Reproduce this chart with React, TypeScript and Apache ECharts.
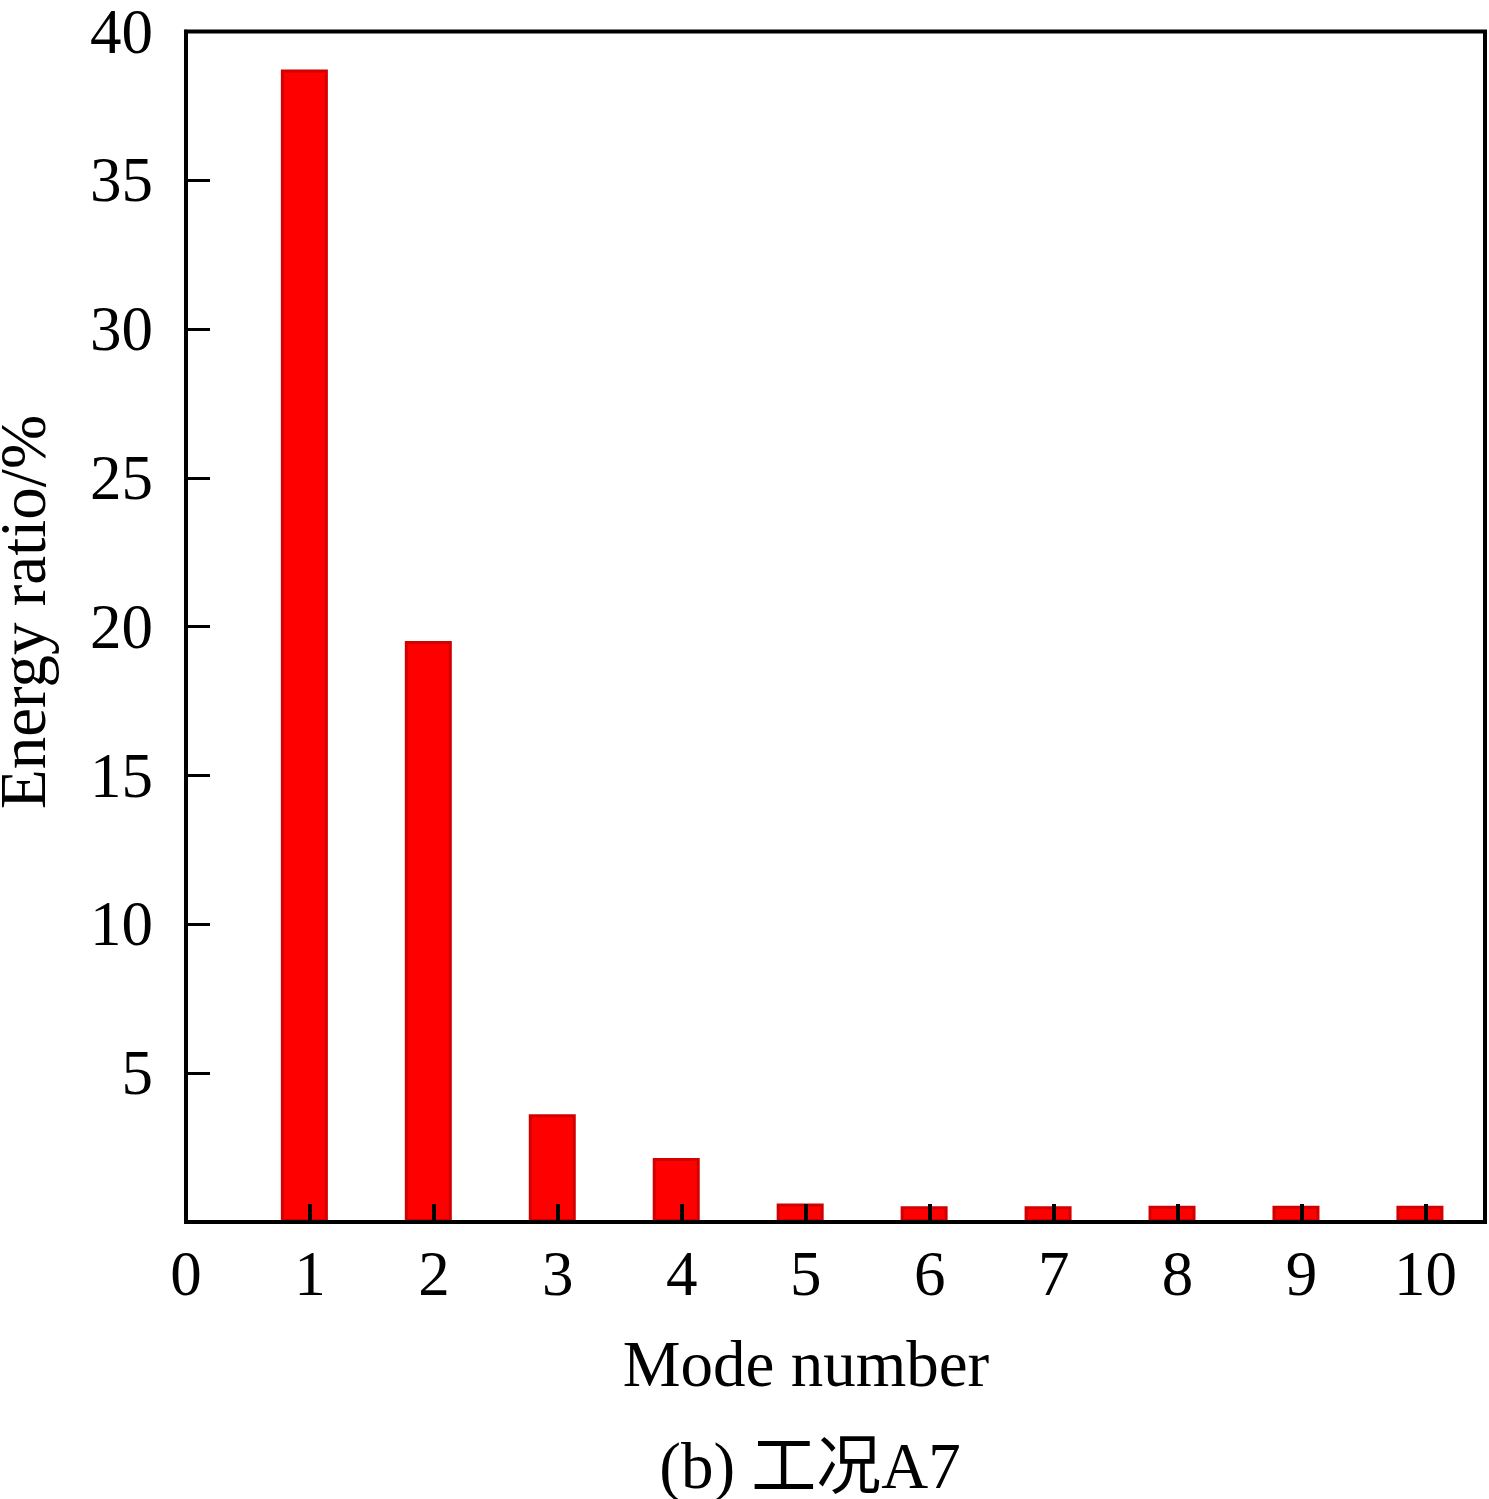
import React, { useEffect, useRef } from "react";
import * as echarts from "echarts";

const modeNumbers = [1, 2, 3, 4, 5, 6, 7, 8, 9, 10];
const energyRatio = [38.72, 19.52, 3.62, 2.15, 0.62, 0.53, 0.53, 0.55, 0.55, 0.55];
const xTickLabels = ["0", "1", "2", "3", "4", "5", "6", "7", "8", "9", "10"];
const yTickValues = [5, 10, 15, 20, 25, 30, 35, 40];

const FONT = "'Liberation Serif', 'Times New Roman', 'Noto Sans CJK SC', serif";

export default function App() {
  const ref = useRef<HTMLDivElement>(null);

  useEffect(() => {
    if (!ref.current) return;
    const chart = echarts.init(ref.current, undefined, { renderer: "svg" });
    const option = {
      animation: false,
      backgroundColor: "#ffffff",
      grid: {
        left: 186,
        top: 30,
        right: 4,
        bottom: 277,
        show: true,
        borderColor: "#000",
        borderWidth: 4,
        containLabel: false,
      },
      xAxis: [
        {
          type: "value",
          min: 0,
          max: 10.48,
          interval: 1,
          z: 5,
          axisLine: { show: true, lineStyle: { color: "#000", width: 4 } },
          axisTick: { show: true, inside: true, length: 18, lineStyle: { color: "#000", width: 4 } },
          splitLine: { show: false },
          axisLabel: {
            color: "#000",
            fontFamily: FONT,
            fontSize: 63,
            lineHeight: 60,
            margin: 22,
            formatter: (v: number) => {
              const i = Math.round(v);
              return Math.abs(v - i) < 1e-6 && i >= 0 && i < xTickLabels.length ? xTickLabels[i] : "";
            },
          },
        },
        {
          type: "value",
          min: 0.045,
          max: 10.525,
          show: false,
        },
      ],
      yAxis: {
        type: "value",
        min: 0,
        max: 40,
        interval: 5,
        z: 5,
        axisLine: { show: true, lineStyle: { color: "#000", width: 4 } },
        axisTick: { show: true, inside: true, length: 24, lineStyle: { color: "#000", width: 3 } },
        splitLine: { show: false },
        axisLabel: {
          color: "#000",
          fontFamily: FONT,
          fontSize: 63,
          lineHeight: 52,
          margin: 33,
          formatter: (v: number) => (yTickValues.indexOf(v) >= 0 ? String(v) : ""),
        },
      },
      series: [
        {
          type: "bar",
          xAxisIndex: 1,
          barWidth: 47,
          data: modeNumbers.map((m, i) => [m, energyRatio[i]]),
          itemStyle: { color: "#ff0000", borderColor: "#d20000", borderWidth: 3 },
          z: 1,
        },
      ],
      graphic: [
        {
          type: "text",
          x: 23,
          y: 612,
          rotation: Math.PI / 2,
          style: {
            text: "Energy ratio/%",
            fontFamily: FONT,
            fontSize: 65,
            lineHeight: 46,
            fill: "#000",
            textAlign: "center",
            textVerticalAlign: "middle",
            align: "center",
            verticalAlign: "middle",
          },
        },
        {
          type: "text",
          x: 806,
          y: 1364,
          style: {
            text: "Mode number",
            fontFamily: FONT,
            fontSize: 65,
            fill: "#000",
            textAlign: "center",
            textVerticalAlign: "middle",
            align: "center",
            verticalAlign: "middle",
          },
        },
        {
          type: "text",
          x: 810,
          y: 1466,
          style: {
            text: "(b) 工况A7",
            fontFamily: FONT,
            fontSize: 65,
            lineHeight: 58,
            fill: "#000",
            textAlign: "center",
            textVerticalAlign: "middle",
            align: "center",
            verticalAlign: "middle",
          },
        },
      ],
    };
    chart.setOption(option);
    return () => chart.dispose();
  }, []);

  return (
    <div
      ref={ref}
      style={{ position: "fixed", left: 0, top: 0, width: 1489, height: 1499, background: "#fff" }}
    />
  );
}
